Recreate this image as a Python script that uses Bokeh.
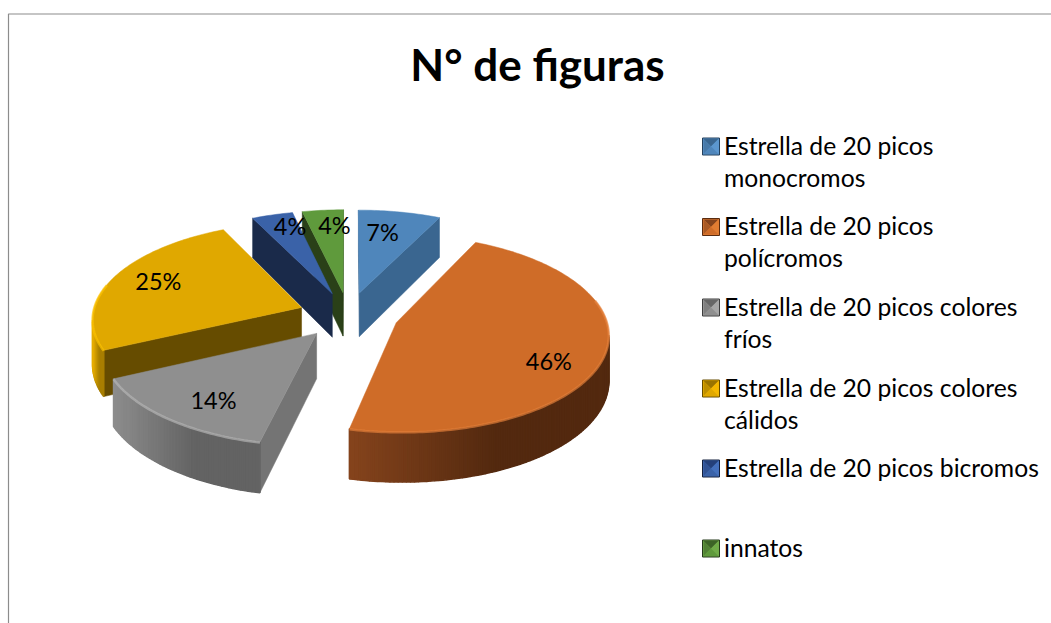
import numpy as np
from bokeh.plotting import figure
from bokeh.models import Range1d
from bokeh.core.properties import value
from bokeh.embed import file_html
from bokeh.resources import INLINE

# ---- data ----
title = "N° de figuras"
categories = ["Estrella de 20 picos monocromos", "Estrella de 20 picos polícromos",
              "Estrella de 20 picos colores fríos", "Estrella de 20 picos colores cálidos",
              "Estrella de 20 picos bicromos", "innatos"]
legend_lines = [["Estrella de 20 picos", "monocromos"], ["Estrella de 20 picos", "polícromos"],
                ["Estrella de 20 picos colores", "fríos"], ["Estrella de 20 picos colores", "cálidos"],
                ["Estrella de 20 picos bicromos"], ["innatos"]]
counts = [2, 13, 4, 7, 1, 1]

# ---- style ----
top_col = ["#4f86bb", "#cf6c28", "#8f8f8f", "#e0a800", "#3a62a8", "#5f9a3c"]
side_col = ["#3a6690", "#84431c", "#747474", "#664c00", "#1a2a4a", "#2a4018"]
arc_left = ["#3a6690", "#84431c", "#8c8c8c", "#e6ac00", "#1a2a4a", "#2a4018"]
arc_right = ["#3a6690", "#53290f", "#636363", "#a87e00", "#1a2a4a", "#2a4018"]
bevel_col = ["#6aa0d0", "#e8823c", "#b8b8b8", "#ffc400", "#5a80c0", "#7cb050"]
key_dark = ["#3a6690", "#84431c", "#666666", "#9a7400", "#24407a", "#3c6426"]
key_light = ["#5c97cf", "#e07c32", "#a6a6a6", "#f4b800", "#4470bc", "#70ac48"]
key_edge = ["#24405c", "#5a2c10", "#3c3c3c", "#664c00", "#14203c", "#24381a"]
draw_order = [5, 4, 0, 3, 2, 1]
label_r = [0.70, 0.79, 0.777, 0.765, 0.81, 0.78]
label_ang = [10.3, 120.0, 214.5, 290.5, 343.5, 356.5]

CX, CY, A, B, P, DEPTH, EXPL, ROT = 348.0, 314.5, 209.0, 96.0, 0.105, 44.5, 0.24, 0.0
FONT = "Lato"


def proj(u, v, down=0.0):
    s = 1.0 / (1.0 + P * v)
    return CX + A * u * s, CY - B * v * s + DEPTH * s * down


def lerp_hex(a, b, t):
    ca = np.array([int(a[i:i + 2], 16) for i in (1, 3, 5)], float)
    cb = np.array([int(b[i:i + 2], 16) for i in (1, 3, 5)], float)
    c = ca + (cb - ca) * t
    return "#%02x%02x%02x" % tuple(int(round(x)) for x in c)


def area(xs, ys):
    xs, ys = np.asarray(xs), np.asarray(ys)
    return 0.5 * np.sum(xs * np.roll(ys, -1) - np.roll(xs, -1) * ys)


p = figure(width=1051, height=623, output_backend="svg", toolbar_location=None,
           x_axis_type=None, y_axis_type=None, min_border=0,
           x_range=Range1d(0, 1051), y_range=Range1d(623, 0))
p.grid.visible = False
p.outline_line_color = None
p.background_fill_color = "white"

# chart frame
p.line([8, 8, 1051], [623, 13.5, 13.5], line_color="#8c8c8c", line_width=1.2)

fr = np.array(counts, float) / sum(counts)
edges = np.concatenate([[0], np.cumsum(fr)]) * 360.0 + ROT

for i in draw_order:
    a0, a1 = np.radians(edges[i]), np.radians(edges[i + 1])
    mid = (a0 + a1) / 2
    ou, ov = EXPL * np.sin(mid), EXPL * np.cos(mid)
    th = np.linspace(a0, a1, max(int(np.degrees(a1 - a0)) + 2, 4))
    us, vs = ou + np.sin(th), ov + np.cos(th)
    tx, ty = proj(us, vs)
    bx, by = proj(us, vs, 1.0)
    ax_, ay_ = proj(ou, ov)
    abx, aby = proj(ou, ov, 1.0)

    # radial side walls
    for (qx, qy, rx, ry) in [(ax_, ay_, tx[0], ty[0]), (tx[-1], ty[-1], ax_, ay_)]:
        bq = (abx, aby) if qx == ax_ else (bx[-1], by[-1])
        br = (abx, aby) if rx == ax_ else (bx[0], by[0])
        qxs = [qx, rx, br[0], bq[0]]
        qys = [qy, ry, br[1], bq[1]]
        if area(qxs, qys) < 0:
            p.patch(qxs, qys, fill_color=side_col[i], line_color=side_col[i], line_width=0.5)

    # outer curved wall as shaded strips
    xsl, ysl, cols = [], [], []
    for k in range(len(th) - 1):
        qxs = [tx[k], tx[k + 1], bx[k + 1], bx[k]]
        qys = [ty[k], ty[k + 1], by[k + 1], by[k]]
        if area(qxs, qys) < 0:
            xsl.append(qxs)
            ysl.append(qys)
            cols.append((tx[k] + tx[k + 1]) / 2)
    if xsl:
        lo, hi = min(cols), max(cols)
        shade = [lerp_hex(arc_left[i], arc_right[i], min(1.0, 1.8 * (c - lo) / max(hi - lo, 1))) for c in cols]
        p.patches(xsl, ysl, fill_color=shade, line_color=shade, line_width=1.6)

    # top face
    p.patch(list(tx) + [ax_], list(ty) + [ay_], fill_color=top_col[i], line_color=top_col[i], line_width=0.5)

    # bevel highlight along the front rim
    front = np.cos(th) < 0.25
    if front.any():
        p.line(tx[front], ty[front] + 0.5, line_color=bevel_col[i], line_width=2.5, line_alpha=0.65)

    # percent label
    la = np.radians(label_ang[i])
    lx, ly = proj(ou + label_r[i] * np.sin(la), ov + label_r[i] * np.cos(la))
    pct = round(100 * counts[i] / sum(counts))
    p.text([lx], [ly - 2.0], text=[f"{pct}%"], text_font=value(FONT), text_font_size="23.5px",
           text_color="#000000", text_align="center", text_baseline="middle")

# title
p.text([537], [63.5], text=[title], text_font=value(FONT), text_font_style="bold", text_font_size="44px",
       text_color="#000000", text_align="center", text_baseline="middle")

# legend
KX, KS, TX, LH = 702.0, 17.0, 723.5, 32.0
entry_y = [146.0, 226.5, 307.0, 388.0, 468.0, 548.0]
for i, lines in enumerate(legend_lines):
    y0 = entry_y[i]
    x0, x1, y_, y1 = KX, KX + KS, y0 - KS / 2, y0 + KS / 2
    xm, ym = (x0 + x1) / 2, y0
    p.patch([x0, x1, x1, x0], [y_, y_, y1, y1], fill_color=key_light[i], line_color=key_edge[i], line_width=1)
    p.patch([x0 + 1, x1 - 1, xm], [y_ + 1, y_ + 1, ym], fill_color=key_dark[i], line_color=None)
    p.patch([x0 + 1, x0 + 1, xm], [y_ + 1, y1 - 1, ym], fill_color=lerp_hex(key_dark[i], key_light[i], 0.4), line_color=None)
    p.patch([x1 - 1, x1 - 1, xm], [y_ + 1, y1 - 1, ym], fill_color=key_light[i], line_color=None)
    p.patch([x0 + 1, x1 - 1, xm], [y1 - 1, y1 - 1, ym], fill_color=top_col[i], line_color=None)
    for j, t in enumerate(lines):
        p.text([TX], [y0 - 1.5 + j * LH], text=[t], text_font=value(FONT), text_font_size="24.7px",
               text_color="#000000", text_align="left", text_baseline="middle")

open("out.html", "w").write(file_html(p, INLINE))
